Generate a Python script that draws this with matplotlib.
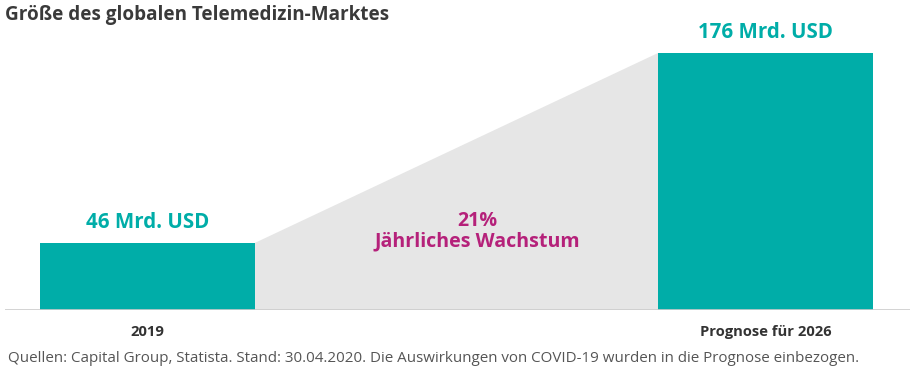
import matplotlib
matplotlib.use("Agg")
import matplotlib.pyplot as plt

categories = ["2019", "Prognose für 2026"]
values = [46, 176]
value_labels = ["46 Mrd. USD", "176 Mrd. USD"]
growth_label = "21%\nJährliches Wachstum"
title = "Größe des globalen Telemedizin-Marktes"
footnote = ("Quellen: Capital Group, Statista. Stand: 30.04.2020. Die Auswirkungen von "
            "COVID-19 wurden in die Prognose einbezogen.")

W, H = 916, 374
fig = plt.figure(figsize=(W / 100, H / 100), dpi=100)
plt.rcParams['font.family'] = ['Open Sans', 'DejaVu Sans']

teal = "#00ADA8"
grey = "#e6e6e6"
magenta = "#B5217A"
dark = "#333333"

ax_left, ax_right = 5 / W, 910 / W
ax_bottom, ax_top = 1 - 310 / H, 1 - 53 / H
ax = fig.add_axes([ax_left, ax_bottom, ax_right - ax_left, ax_top - ax_bottom])

xpos = [0, 1]
bw = 0.348
ax.set_xlim(-0.2306, 1.2338)
ax.set_ylim(0, 176)

# grey growth wedge between bar tops
x0 = xpos[0] + bw / 2
x1 = xpos[1] - bw / 2
ax.fill([x0, x1, x1, x0], [0, 0, values[1], values[0]], color=grey, lw=0, zorder=1)

ax.bar(xpos, values, width=bw, color=teal, zorder=2)
ax.axhline(0, color="#cccccc", lw=1.2, zorder=3)

for x, v, lab in zip(xpos, values, value_labels):
    ax.annotate(lab, (x, v), xytext=(0, 7), textcoords="offset points",
                ha="center", va="bottom", fontsize=14.8, fontweight="bold", color=teal)

for x, c in zip(xpos, categories):
    ax.annotate(c, (x, 0), xytext=(0, -11), textcoords="offset points",
                ha="center", va="top", fontsize=10.6, fontweight="bold", color=dark)

ax.text(0.533, 54, growth_label, ha="center", va="center", fontsize=14.1,
        fontweight="bold", color=magenta, linespacing=1.0, zorder=4)

ax.axis("off")

fig.text(5 / W, 1 - 15 / H, title, ha="left", va="center", fontsize=13.6,
         fontweight="bold", color="#3a3a3a")
fig.text(8 / W, 1 - 358 / H, footnote, ha="left", va="center", fontsize=10.9,
         color="#555555")

fig.savefig("out.png", dpi=100)
